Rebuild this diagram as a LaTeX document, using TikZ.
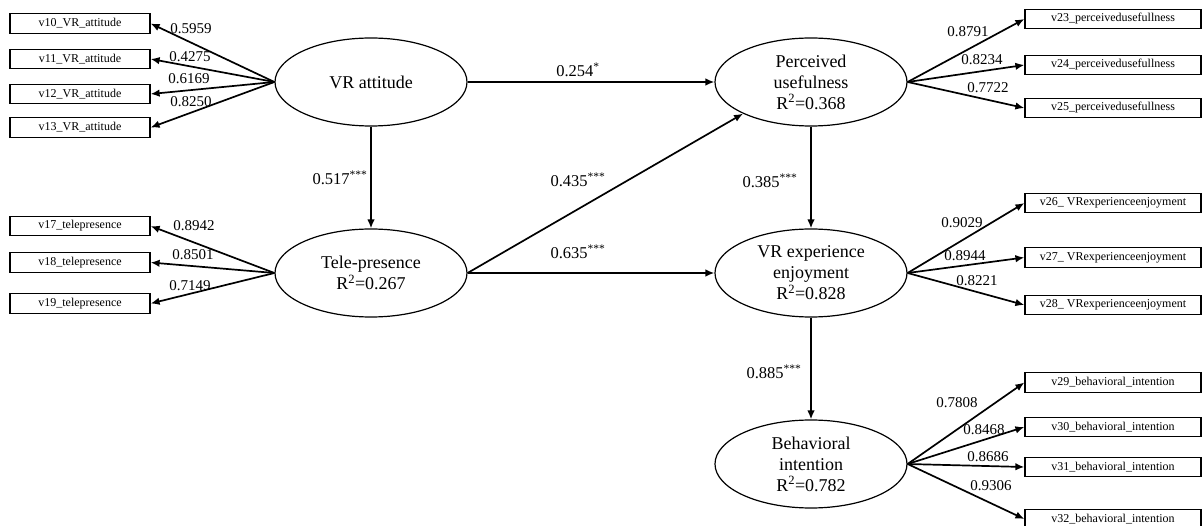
\documentclass[tikz,border=0pt]{standalone}
\usepackage{fontspec}
\setmainfont{Liberation Serif}
\usetikzlibrary{shapes.geometric,arrows.meta}
\begin{document}
\begin{tikzpicture}[x=1pt,y=-1pt,
 lat/.style={ellipse,draw,line width=1.2pt,minimum width=192pt,minimum height=88pt,inner sep=0pt,align=center,font=\fontsize{18}{21}\selectfont},
 ind/.style={draw,line width=1.2pt,minimum height=19.5pt,inner sep=0pt,font=\fontsize{12}{14}\selectfont},
 indl/.style={ind,minimum width=140pt},
 indr/.style={ind,minimum width=176pt},
 arr/.style={line width=1.7pt,-{Latex[length=9pt,width=7.5pt]}},
 pathlab/.style={inner sep=0pt,font=\fontsize{16.5}{18}\selectfont},
 loadlab/.style={inner sep=0pt,font=\fontsize{15}{17}\selectfont}
]
\useasboundingbox (0,0) rectangle (1203,526);
% latent constructs
\node[lat] (att) at (371,82) {VR attitude};
\node[lat] (pu) at (811,82) {Perceived\\usefulness\\R\textsuperscript{2}=0.368};
\node[lat] (tp) at (371,273) {Tele-presence\\R\textsuperscript{2}=0.267};
\node[lat] (ve) at (811,273) {VR experience\\enjoyment\\R\textsuperscript{2}=0.828};
\node[lat] (bi) at (811,464) {Behavioral\\intention\\R\textsuperscript{2}=0.782};
% indicators left
\node[indl] (v10) at (80,23.5) {v10\_VR\_attitude};
\node[indl] (v11) at (80,59) {v11\_VR\_attitude};
\node[indl] (v12) at (80,94) {v12\_VR\_attitude};
\node[indl] (v13) at (80,127.5) {v13\_VR\_attitude};
\node[indl] (v17) at (80,226) {v17\_telepresence};
\node[indl] (v18) at (80,262.5) {v18\_telepresence};
\node[indl] (v19) at (80,303.5) {v19\_telepresence};
% indicators right
\node[indr] (v23) at (1113,19) {v23\_perceivedusefullness};
\node[indr] (v24) at (1113,65) {v24\_perceivedusefullness};
\node[indr] (v25) at (1113,108) {v25\_perceivedusefullness};
\node[indr] (v26) at (1113,203) {v26\_ VRexperienceenjoyment};
\node[indr] (v27) at (1113,257.5) {v27\_ VRexperienceenjoyment};
\node[indr] (v28) at (1113,305) {v28\_ VRexperienceenjoyment};
\node[indr] (v29) at (1113,382.5) {v29\_behavioral\_intention};
\node[indr] (v30) at (1113,427) {v30\_behavioral\_intention};
\node[indr] (v31) at (1113,467) {v31\_behavioral\_intention};
\node[indr] (v32) at (1113,519) {v32\_behavioral\_intention};
% loading arrows
\foreach \v in {v10,v11,v12,v13} \draw[arr] (att.west) -- (\v.east);
\foreach \v in {v17,v18,v19} \draw[arr] (tp.west) -- (\v.east);
\foreach \v in {v23,v24,v25} \draw[arr] (pu.east) -- (\v.west);
\foreach \v in {v26,v27,v28} \draw[arr] (ve.east) -- (\v.west);
\foreach \v in {v29,v30,v31,v32} \draw[arr] (bi.east) -- (\v.west);
% loading labels
\node[loadlab] (l10) at (191,29) {0.5959};
\node[loadlab] (l11) at (190,57) {0.4275};
\node[loadlab] (l12) at (189,79) {0.6169};
\node[loadlab] (l13) at (191,102) {0.8250};
\node[loadlab] (l17) at (194,226) {0.8942};
\node[loadlab] (l18) at (193,255) {0.8501};
\node[loadlab] (l19) at (190,286) {0.7149};
\node[loadlab] (l23) at (968,32) {0.8791};
\node[loadlab] (l24) at (982,60) {0.8234};
\node[loadlab] (l25) at (988,88) {0.7722};
\node[loadlab] (l26) at (962,223) {0.9029};
\node[loadlab] (l27) at (965,256) {0.8944};
\node[loadlab] (l28) at (977,281) {0.8221};
\node[loadlab] (l29) at (957,403) {0.7808};
\node[loadlab] (l30) at (984,430) {0.8468};
\node[loadlab] (l31) at (988,457) {0.8686};
\node[loadlab] (l32) at (991,486) {0.9306};
% structural paths
\draw[arr] (att) -- (pu);
\draw[arr] (att) -- (tp);
\draw[arr] (tp.east) -- (pu.205);
\draw[arr] (tp) -- (ve);
\draw[arr] (pu) -- (ve);
\draw[arr] (ve) -- (bi);
% path labels
\node[pathlab] (p1) at (578,70) {0.254\textsuperscript{*}};
\node[pathlab] (p2) at (340,178) {0.517\textsuperscript{***}};
\node[pathlab] (p3) at (578,180) {0.435\textsuperscript{***}};
\node[pathlab] (p4) at (578,252) {0.635\textsuperscript{***}};
\node[pathlab] (p5) at (770,181) {0.385\textsuperscript{***}};
\node[pathlab] (p6) at (774,372) {0.885\textsuperscript{***}};
\end{tikzpicture}
\end{document}
